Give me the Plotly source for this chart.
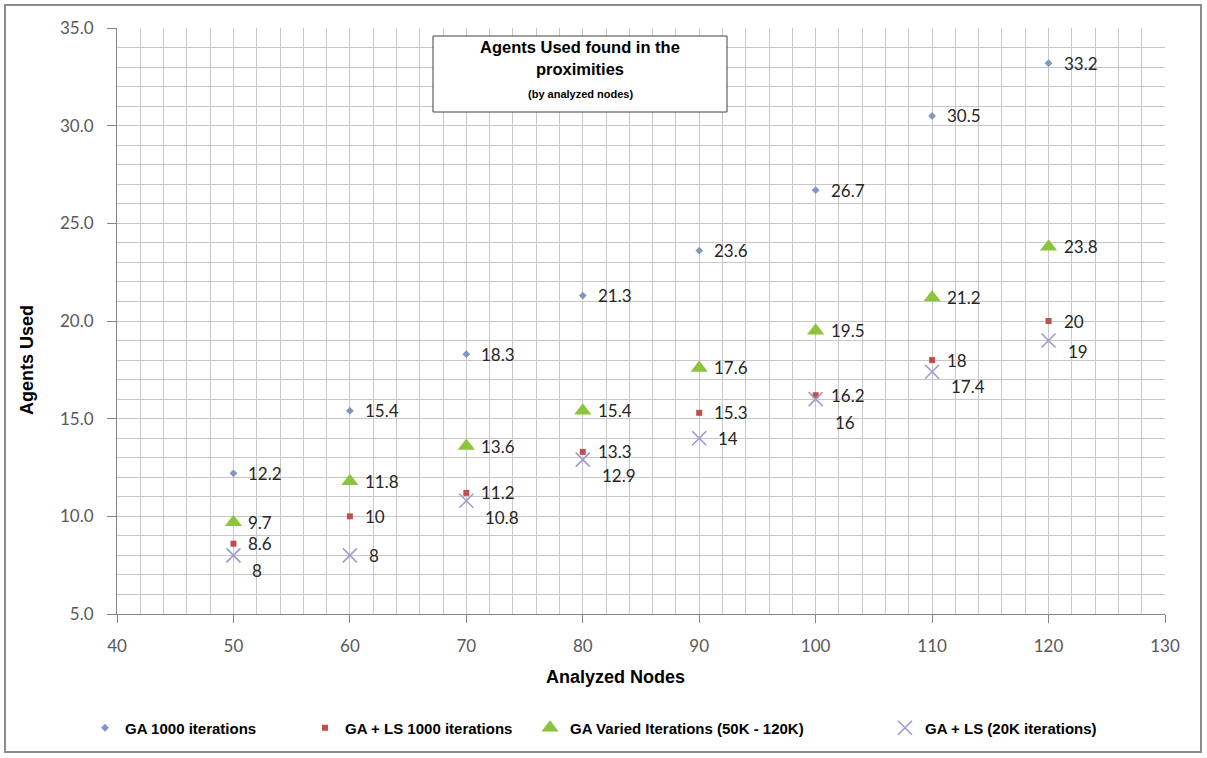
import plotly.graph_objects as go

# Analyzed nodes (x) and agents used by each method
nodes = [50, 60, 70, 80, 90, 100, 110, 120]
ga_1000 = [12.2, 15.4, 18.3, 21.3, 23.6, 26.7, 30.5, 33.2]
ga_ls_1000 = [8.6, 10, 11.2, 13.3, 15.3, 16.2, 18, 20]
ga_varied = [9.7, 11.8, 13.6, 15.4, 17.6, 19.5, 21.2, 23.8]
ga_ls_20k = [8, 8, 10.8, 12.9, 14, 16, 17.4, 19]

names = [
    "GA 1000 iterations",
    "GA + LS 1000 iterations",
    "GA Varied Iterations (50K - 120K)",
    "GA + LS (20K iterations)",
]

# pixel drop of the value labels of the last series, moved below crowded points
ls20k_label_drop = [15, 0, 17, 16, 0, 23, 15, 11]

PLOT_L, PLOT_R, PLOT_T, PLOT_B = 117, 42, 28, 144
W, H = 1207, 758
PW, PH = W - PLOT_L - PLOT_R, H - PLOT_T - PLOT_B


def px_x(p):
    return (p - PLOT_L) / PW


def px_y(p):
    return (H - PLOT_B - p) / PH


series = [
    dict(y=ga_1000, symbol="diamond", size=6, color="#7F98C2", line=dict(width=0)),
    dict(y=ga_ls_1000, symbol="square", size=6, color="#C0504D", line=dict(width=0)),
    dict(y=ga_varied, symbol="triangle-up", size=15, color="#8CC43C", line=dict(width=0)),
    dict(y=ga_ls_20k, symbol="x-thin", size=14, color="#9C9CD0",
         line=dict(width=1.6, color="#9C9CD0")),
]
legend_left_px = [85, 305, 530, 885]

fig = go.Figure()
for i, (s, name) in enumerate(zip(series, names)):
    fig.add_trace(go.Scatter(
        x=nodes, y=s["y"], mode="markers", name=name,
        marker=dict(symbol=s["symbol"], size=s["size"], color=s["color"], line=s["line"]),
        legend="legend" if i == 0 else f"legend{i + 1}",
        cliponaxis=False,
    ))

annotations = []
label_font = dict(family="Lato, Noto Sans, sans-serif", size=17, color="#262626")
for si, s in enumerate(series):
    for j, (xv, yv) in enumerate(zip(nodes, s["y"])):
        dy = ls20k_label_drop[j] if si == 3 else 0
        annotations.append(dict(
            x=xv, y=yv, xref="x", yref="y", text=f"{yv:g}", showarrow=False,
            xanchor="left", yanchor="middle", xshift=13 if si < 3 else 17, yshift=-dy,
            font=label_font,
        ))

# chart title lines inside a white box
title_font = dict(family="Liberation Sans, Arial, sans-serif", size=16,
                  color="#000000", weight="bold")
for text, ypx, size in [("Agents Used found in the", 47, 16.5),
                        ("proximities", 69, 16.5),
                        ("(by analyzed nodes)", 94, 11)]:
    annotations.append(dict(
        x=px_x(580), y=px_y(ypx), xref="paper", yref="paper", showarrow=False,
        xanchor="center", yanchor="middle", text=text,
        font=dict(title_font, size=size),
    ))

axis_title_font = dict(family="Liberation Sans, Arial, sans-serif", size=18,
                       color="#000000", weight="bold")
annotations.append(dict(
    x=px_x(615), y=px_y(677), xref="paper", yref="paper", showarrow=False,
    xanchor="center", yanchor="middle", text="Analyzed Nodes", font=axis_title_font,
))
annotations.append(dict(
    x=px_x(27), y=px_y(360), xref="paper", yref="paper", showarrow=False,
    xanchor="center", yanchor="middle", text="Agents Used", textangle=-90,
    font=axis_title_font,
))

legend_style = dict(
    orientation="h", yanchor="middle", y=px_y(728), xanchor="left",
    bgcolor="rgba(0,0,0,0)", borderwidth=0,
    font=dict(family="Liberation Sans, Arial, sans-serif", size=15, color="#000000",
              weight="bold"),
)
legends = {}
for i, lx in enumerate(legend_left_px):
    key = "legend" if i == 0 else f"legend{i + 1}"
    legends[key] = dict(legend_style, x=px_x(lx))

grid_color = "#C8C8C8"
axis_font = dict(family="Lato, Noto Sans, sans-serif", size=17, color="#595959")

fig.update_layout(
    width=W, height=H,
    margin=dict(l=PLOT_L, r=PLOT_R, t=PLOT_T, b=PLOT_B, autoexpand=False),
    paper_bgcolor="#FFFFFF", plot_bgcolor="#FFFFFF",
    showlegend=True,
    annotations=annotations,
    shapes=[
        dict(type="rect", xref="paper", yref="paper",
             x0=px_x(5), x1=px_x(1201), y0=px_y(752), y1=px_y(5),
             line=dict(color="#8C8C8C", width=2), fillcolor="rgba(0,0,0,0)", layer="below"),
        dict(type="rect", xref="paper", yref="paper",
             x0=px_x(433), x1=px_x(727), y0=px_y(112), y1=px_y(36),
             line=dict(color="#404040", width=1), fillcolor="#FFFFFF", layer="above"),
    ],
    xaxis=dict(
        range=[40, 130], dtick=10, tick0=40, showgrid=True, gridcolor=grid_color, gridwidth=1,
        minor=dict(dtick=2, showgrid=True, gridcolor=grid_color, gridwidth=1),
        showline=True, linecolor="#868686", linewidth=1, zeroline=False,
        ticks="outside", ticklen=8, tickcolor="#868686", tickfont=axis_font,
        ticklabelstandoff=9,
    ),
    yaxis=dict(
        range=[5, 35], dtick=5, tick0=5, tickformat=".1f", showgrid=True,
        gridcolor=grid_color, gridwidth=1,
        minor=dict(dtick=1, showgrid=True, gridcolor=grid_color, gridwidth=1),
        showline=True, linecolor="#868686", linewidth=1, zeroline=False,
        ticks="outside", ticklen=9, tickcolor="#868686", tickfont=axis_font,
        ticklabelstandoff=10,
    ),
    **legends,
)

fig.write_html("out.html")
